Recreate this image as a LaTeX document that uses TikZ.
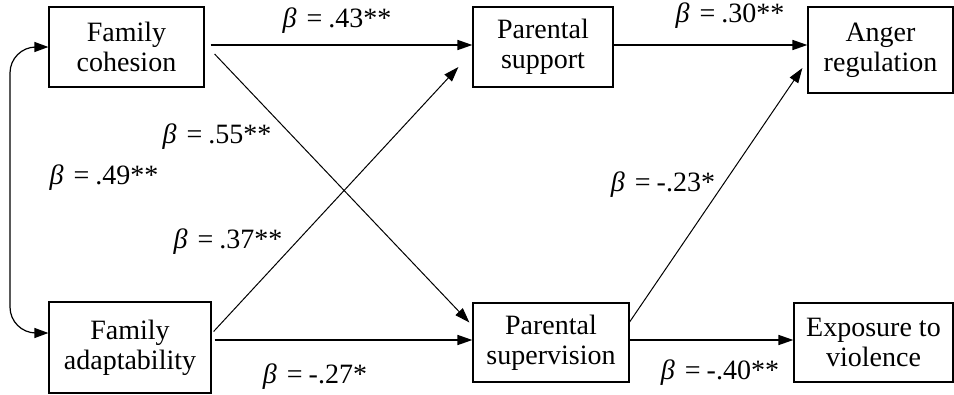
\documentclass[tikz,border=0pt]{standalone}
\usepackage{fontspec}
\setmainfont{Liberation Serif}
\usetikzlibrary{arrows.meta}
\newcommand{\bt}[1]{{\itshape β}\hspace{10pt}=\hspace{6pt}#1}
\begin{document}
\begin{tikzpicture}[x=1pt,y=-1pt,
  box/.style={draw=black,line width=1.2pt,inner sep=0pt,align=center,font=\fontsize{28}{30}\selectfont},
  lab/.style={inner sep=0pt,font=\fontsize{28}{30}\selectfont},
  harr/.style={line width=1.6pt,-{Triangle[length=15pt,width=10pt]}},
  darr/.style={line width=1pt,-{Triangle[length=15pt,width=10pt]}},
  dbl/.style={line width=1.2pt,{Triangle[length=14pt,width=10pt]}-{Triangle[length=14pt,width=10pt]}}]
\useasboundingbox (0,0) rectangle (954,394);
\node[box,minimum width=155pt,minimum height=80pt] (FC) at (126.5,47) {Family\\cohesion};
\node[box,minimum width=162pt,minimum height=91pt] (FA) at (130,347.5) {Family\\adaptability};
\node[box,minimum width=140pt,minimum height=80pt] (PS) at (543,47) {Parental\\support};
\node[box,minimum width=145pt,minimum height=86pt] (AR) at (880.5,50) {Anger\\regulation};
\node[box,minimum width=156pt,minimum height=79pt] (PV) at (551,342.5) {Parental\\supervision};
\node[box,minimum width=159pt,minimum height=79pt] (EV) at (873.5,342.5) {Exposure to\\violence};
\coordinate (L) at (10,0);
% connectors
\draw[harr] ([shift={(6pt,2pt)}]FC.east) -- ([yshift=2pt]PS.west);
\draw[darr] ([shift={(10pt,-7pt)}]FC.east) -- ([shift={(-3pt,20pt)}]PV.west);
\draw[darr] ([shift={(2pt,16pt)}]FA.east) -- ([shift={(-14pt,-20pt)}]PS.west);
\draw[harr] ([shift={(3pt,7.5pt)}]FA.east) -- ([yshift=2.5pt]PV.west);
\draw[harr] ([yshift=2pt]PS.east) -- ([yshift=5pt]AR.west);
\draw[darr] ([yshift=20.5pt]PV.east) -- ([shift={(-5pt,-18pt)}]AR.west);
\draw[harr] ([yshift=2.5pt]PV.east) -- ([yshift=2.5pt]EV.west);
\draw[dbl,rounded corners=26pt] (FC.west) -| ([yshift=14.5pt]FA.west -| L) -- ([yshift=14.5pt]FA.west);
% labels
\node[lab] (l43) at (337,21) {\bt{.43**}};
\node[lab] (l30) at (730,16) {\bt{.30**}};
\node[lab] (l55) at (217,137) {\bt{.55**}};
\node[lab] (l49) at (104,178) {\bt{.49**}};
\node[lab] (l37) at (228,242) {\bt{.37**}};
\node[lab] (l27) at (315,377) {\bt{-.27*}};
\node[lab] (l23) at (663,185) {\bt{-.23*}};
\node[lab] (l40) at (720,373) {\bt{-.40**}};
\end{tikzpicture}
\end{document}
